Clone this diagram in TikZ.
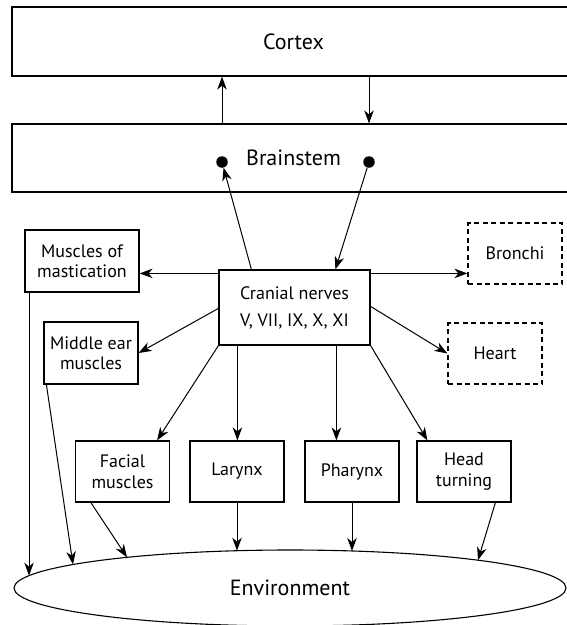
\documentclass[tikz,border=0pt]{standalone}
\usepackage{fontspec}
\setmainfont{PT Sans}
\usetikzlibrary{arrows.meta,shapes.geometric,calc}
\begin{document}
\begin{tikzpicture}[x=1pt,y=-1pt,
  box/.style={draw, line width=1.2pt, inner sep=0pt, align=center, font=\fontsize{18}{20}\selectfont},
  dbox/.style={box, dash pattern=on 5pt off 3.5pt},
  big/.style={draw, line width=1.2pt, inner sep=0pt, font=\fontsize{22}{26}\selectfont},
  row/.style={box, minimum width=94pt, minimum height=61pt, font=\fontsize{18}{21.5}\selectfont},
  arr/.style={line width=1pt, -{Stealth[length=13pt,width=9.5pt,inset=4pt]}},
  blob/.style={circle, fill, inner sep=0pt, minimum size=11.5pt}
]
\useasboundingbox (0,0) rectangle (567,625);
\begin{scope}
\clip (0,0) rectangle (567,625);
% top boxes
\node[big, minimum width=563pt, minimum height=69pt] (cortex) at (293.5,41.5) {Cortex};
\node[big, minimum width=563pt, minimum height=68pt] (brainstem) at (293.5,158) {Brainstem};
\node[blob] (ldot) at (222,162) {};
\node[blob] (rdot) at (369,162) {};
% middle boxes
\node[box, minimum width=151pt, minimum height=75pt, font=\fontsize{18}{27}\selectfont] (cranial) at (294.5,307.5) {Cranial nerves\\V, VII, IX, X, XI};
\node[box, minimum width=114pt, minimum height=62pt] (mast) at (82,261) {Muscles of\\mastication};
\node[box, minimum width=94pt, minimum height=62pt] (mear) at (91,353) {Middle ear\\muscles};
\node[dbox, minimum width=94pt, minimum height=61pt] (bronchi) at (515,253.5) {Bronchi};
\node[dbox, minimum width=94pt, minimum height=61pt] (heart) at (495,353.5) {Heart};
% bottom row
\node[row] (facial) at (122.5,471.5) {Facial\\muscles};
\node[row] (larynx) at (237,471.5) {Larynx};
\node[row] (pharynx) at (352,471.5) {Pharynx};
\node[row] (head) at (464,471.5) {Head\\turning};
\node[draw, ellipse, line width=1.1pt, inner sep=0pt, minimum width=552pt, minimum height=76pt, font=\fontsize{22}{26}\selectfont] (env) at (290,588) {Environment};

% cortex <-> brainstem
\draw[arr] (brainstem.north -| ldot) -- (cortex.south -| ldot);
\draw[arr] (cortex.south -| rdot) -- (brainstem.north -| rdot);
% brainstem <-> cranial
\coordinate (cnA) at ($(cranial.north west)+(33,0)$);
\coordinate (cnB) at ($(cranial.north west)+(117,0)$);
\draw[arr] (cnA) -- (ldot);
\draw[arr] (rdot) -- (cnB);
% side arrows
\coordinate (cnL) at ($(cranial.north west)+(0,4)$);
\coordinate (cnR) at ($(cranial.north east)+(0,4)$);
\draw[arr] (cnL) -- (cnL -| mast.east);
\draw[arr] (cnR) -- (cnR -| bronchi.west);
\draw[arr] ($(cranial.north west)+(0,39)$) -- (mear.east);
\draw[arr] ($(cranial.north east)+(0,37)$) -- (heart.west);
% down to bottom row
\coordinate (cx1) at ($(cranial.south west)+(19,0)$);
\coordinate (cx2) at ($(cranial.south west)+(118,0)$);
\draw[arr] (cranial.south west) -- ($(facial.north east)+(-13,0)$);
\draw[arr] (cx1) -- (cx1 |- larynx.north);
\draw[arr] (cx2) -- (cx2 |- pharynx.north);
\draw[arr] (cranial.south east) -- ($(head.north west)+(11,0)$);
% to environment
\coordinate (e1) at (29,575.6);
\coordinate (e2) at (73,564.5);
\coordinate (e3) at (127,557.3);
\coordinate (e4) at (237,550.7);
\coordinate (e5) at (352,551);
\coordinate (e6) at (478,560.2);
\draw[arr] (mast.south -| e1) -- (e1);
\draw[arr] ($(mear.south west)+(3,0)$) -- (e2);
\draw[arr] ($(facial.south west)+(16,0)$) -- (e3);
\draw[arr] (larynx.south) -- (larynx.south |- e4);
\draw[arr] (pharynx.south) -- (pharynx.south |- e5);
\draw[arr] ($(head.south west)+(79,0)$) -- (e6);
\end{scope}
\end{tikzpicture}
\end{document}
